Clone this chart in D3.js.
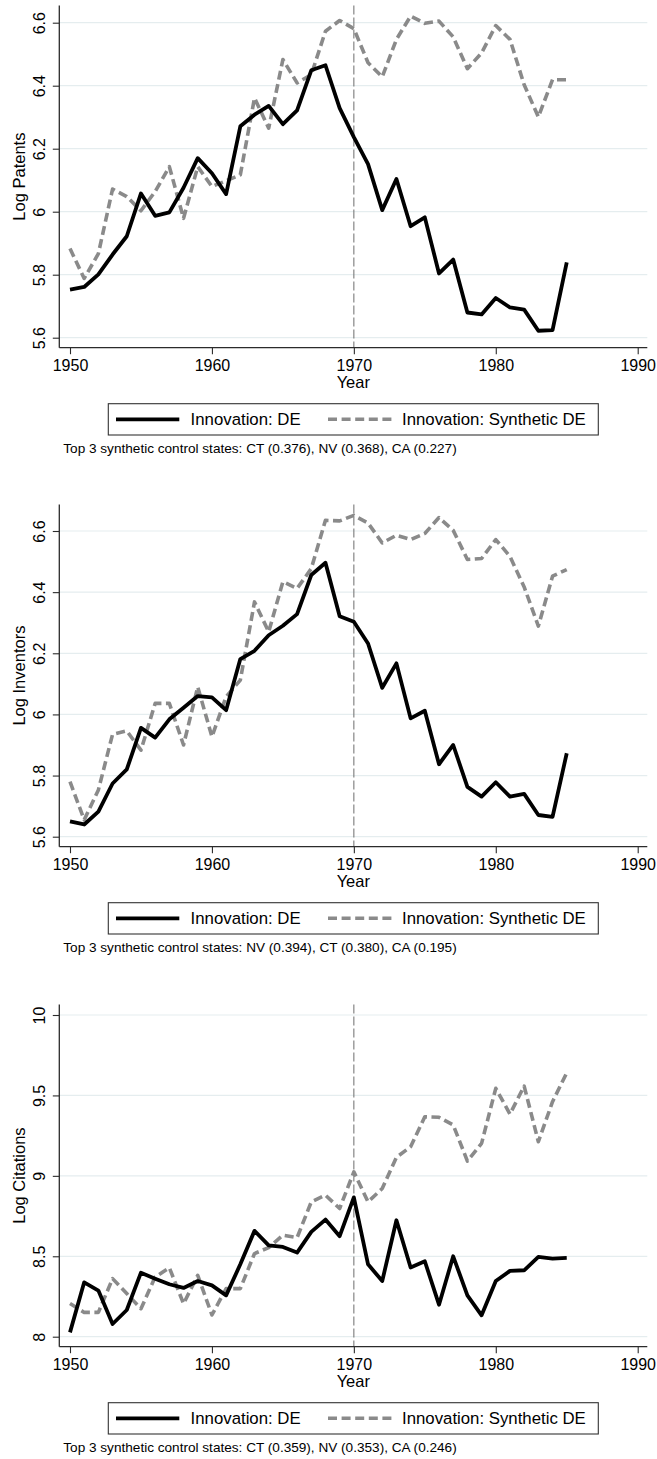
<!DOCTYPE html>
<html>
<head>
<meta charset="utf-8">
<script src="https://cdn.jsdelivr.net/npm/d3@7"></script>
<style>
  body { margin: 0; background: #fff; }
  svg { display: block; }
  text { font-family: "Liberation Sans", Arial, Helvetica, sans-serif; fill: #000; }
</style>
</head>
<body>
<svg id="chart" width="657" height="1459"></svg>
<script>
// ---- data -------------------------------------------------------------
const years = [1950, 1951, 1952, 1953, 1954, 1955, 1956, 1957, 1958, 1959,
               1960, 1961, 1962, 1963, 1964, 1965, 1966, 1967, 1968, 1969,
               1970, 1971, 1972, 1973, 1974, 1975, 1976, 1977, 1978, 1979,
               1980, 1981, 1982, 1983, 1984, 1985];

const patentsDE = [5.753, 5.761, 5.801, 5.864, 5.922, 6.058, 5.987, 5.998, 6.076, 6.170,
                   6.122, 6.056, 6.271, 6.308, 6.336, 6.278, 6.322, 6.449, 6.465, 6.329,
                   6.237, 6.151, 6.005, 6.104, 5.954, 5.982, 5.804, 5.848, 5.680, 5.674,
                   5.726, 5.696, 5.689, 5.622, 5.624, 5.839];
const patentsSynth = [5.883, 5.788, 5.867, 6.072, 6.048, 6.003, 6.064, 6.143, 5.979, 6.143,
                      6.080, 6.098, 6.117, 6.361, 6.265, 6.483, 6.409, 6.435, 6.573, 6.607,
                      6.581, 6.473, 6.428, 6.547, 6.621, 6.598, 6.605, 6.555, 6.454, 6.504,
                      6.591, 6.547, 6.403, 6.301, 6.419, 6.419];

const inventorsDE = [5.650, 5.640, 5.682, 5.774, 5.820, 5.956, 5.924, 5.984, 6.022, 6.060,
                     6.056, 6.014, 6.181, 6.208, 6.259, 6.290, 6.328, 6.456, 6.496, 6.321,
                     6.303, 6.232, 6.087, 6.167, 5.987, 6.012, 5.837, 5.900, 5.763, 5.731,
                     5.778, 5.731, 5.740, 5.671, 5.665, 5.873];
const inventorsSynth = [5.780, 5.655, 5.753, 5.935, 5.946, 5.883, 6.036, 6.036, 5.900, 6.090,
                        5.927, 6.058, 6.112, 6.368, 6.270, 6.434, 6.412, 6.477, 6.635, 6.633,
                        6.651, 6.626, 6.561, 6.586, 6.572, 6.592, 6.644, 6.602, 6.507, 6.510,
                        6.572, 6.517, 6.417, 6.289, 6.452, 6.474];

const citationsDE = [8.027, 8.338, 8.287, 8.079, 8.166, 8.398, 8.361, 8.326, 8.303, 8.346,
                     8.319, 8.257, 8.450, 8.658, 8.568, 8.558, 8.523, 8.652, 8.728, 8.625,
                     8.866, 8.450, 8.346, 8.724, 8.430, 8.469, 8.199, 8.500, 8.257, 8.133,
                     8.346, 8.409, 8.413, 8.496, 8.486, 8.490];
const citationsSynth = [8.207, 8.151, 8.151, 8.361, 8.268, 8.174, 8.371, 8.429, 8.205, 8.382,
                        8.135, 8.299, 8.299, 8.517, 8.554, 8.631, 8.616, 8.838, 8.880, 8.797,
                        9.025, 8.838, 8.921, 9.115, 9.181, 9.367, 9.364, 9.316, 9.092, 9.202,
                        9.544, 9.384, 9.558, 9.212, 9.461, 9.641];

const xTicks = [1950, 1960, 1970, 1980, 1990];
const yTicksPatents = [5.6, 5.8, 6, 6.2, 6.4, 6.6];
const yTicksInventors = [5.6, 5.8, 6, 6.2, 6.4, 6.6];
const yTicksCitations = [8, 8.5, 9, 9.5, 10];
const treatmentYear = 1970;

const yTitles = ["Log Patents", "Log Inventors", "Log Citations"];
const seriesNames = ["Innovation: DE", "Innovation: Synthetic DE"];
const footnotes = [
  "Top 3 synthetic control states: CT (0.376), NV (0.368), CA (0.227)",
  "Top 3 synthetic control states: NV (0.394), CT (0.380), CA (0.195)",
  "Top 3 synthetic control states: CT (0.359), NV (0.353), CA (0.246)"
];

// ---- layout -----------------------------------------------------------
const panels = [
  { top: 0,   de: patentsDE,   synth: patentsSynth,   ticks: yTicksPatents,   hiPos: 22.7 },
  { top: 499, de: inventorsDE, synth: inventorsSynth, ticks: yTicksInventors, hiPos: 32 },
  { top: 999, de: citationsDE, synth: citationsSynth, ticks: yTicksCitations, hiPos: 16 }
];

const axisLeftX = 59.3, axisRightX = 647.3;
const plotTop = 5.5, plotBottom = 347.7;
const loPos = 337.7;           // position of the lowest y tick inside a panel

const x = d3.scaleLinear().domain([1950, 1990]).range([70, 637.7]);

const gridColor = "#e5edef";
const axisColor = "#2b2b2b";
const synthColor = "#8a8a8a";

const svg = d3.select("#chart");

panels.forEach((p, i) => {
  const g = svg.append("g").attr("transform", `translate(0,${p.top})`);
  const lo = p.ticks[0], hi = p.ticks[p.ticks.length - 1];
  const y = d3.scaleLinear().domain([lo, hi]).range([loPos, p.hiPos]);

  // horizontal grid lines
  g.append("g").selectAll("line").data(p.ticks).join("line")
    .attr("x1", axisLeftX).attr("x2", axisRightX)
    .attr("y1", d => y(d)).attr("y2", d => y(d))
    .attr("stroke", gridColor).attr("stroke-width", 1.2);

  // reference line at the treatment year
  g.append("line")
    .attr("x1", x(treatmentYear)).attr("x2", x(treatmentYear))
    .attr("y1", plotTop).attr("y2", plotBottom)
    .attr("stroke", "#7a7a7a").attr("stroke-width", 1.1)
    .attr("stroke-dasharray", "9,3");

  // y axis
  const yAxis = d3.axisLeft(y).tickValues(p.ticks).tickSize(6.5).tickFormat(d => String(d));
  const ya = g.append("g").attr("transform", `translate(${axisLeftX},0)`).call(yAxis);
  ya.select(".domain").remove();
  ya.selectAll(".tick line").attr("stroke", axisColor).attr("stroke-width", 1.1);
  ya.selectAll(".tick text")
    .attr("transform", "rotate(-90)")
    .attr("x", 0).attr("y", -14).attr("dy", 0)
    .attr("text-anchor", "middle")
    .attr("font-size", 16).attr("fill", "#000");
  g.append("line")
    .attr("x1", axisLeftX).attr("x2", axisLeftX)
    .attr("y1", plotTop).attr("y2", plotBottom)
    .attr("stroke", axisColor).attr("stroke-width", 1.3);

  // x axis
  const xAxis = d3.axisBottom(x).tickValues(xTicks).tickSize(6.5).tickFormat(d3.format("d"));
  const xa = g.append("g").attr("transform", `translate(0,${plotBottom})`).call(xAxis);
  xa.select(".domain").remove();
  xa.selectAll(".tick line").attr("stroke", axisColor).attr("stroke-width", 1.1);
  xa.selectAll(".tick text")
    .attr("y", 23).attr("dy", 0)
    .attr("font-size", 16).attr("fill", "#000");
  g.append("line")
    .attr("x1", axisLeftX).attr("x2", axisRightX)
    .attr("y1", plotBottom).attr("y2", plotBottom)
    .attr("stroke", axisColor).attr("stroke-width", 1.3);

  // axis titles
  g.append("text")
    .attr("x", (axisLeftX + axisRightX) / 2).attr("y", 387.5)
    .attr("text-anchor", "middle").attr("font-size", 16.5)
    .text("Year");
  g.append("text")
    .attr("transform", `translate(25,${(plotTop + plotBottom) / 2}) rotate(-90)`)
    .attr("text-anchor", "middle").attr("font-size", 16.5)
    .text(yTitles[i]);

  // series
  const line = d3.line().x((d, k) => x(years[k])).y(d => y(d));
  g.append("path").datum(p.synth)
    .attr("d", line).attr("fill", "none")
    .attr("stroke", synthColor).attr("stroke-width", 3.6)
    .attr("stroke-dasharray", "9,4.5").attr("stroke-linejoin", "round");
  g.append("path").datum(p.de)
    .attr("d", line).attr("fill", "none")
    .attr("stroke", "#000").attr("stroke-width", 3.8)
    .attr("stroke-linejoin", "round");

  // legend
  const lg = g.append("g");
  lg.append("rect")
    .attr("x", 108.3).attr("y", 403.7).attr("width", 490).attr("height", 31.3)
    .attr("fill", "#fff").attr("stroke", "#333").attr("stroke-width", 1.1);
  lg.append("line")
    .attr("x1", 116).attr("x2", 179.3).attr("y1", 419.3).attr("y2", 419.3)
    .attr("stroke", "#000").attr("stroke-width", 3.8);
  lg.append("text").attr("x", 190.6).attr("y", 425.3).attr("font-size", 16.8)
    .text(seriesNames[0]);
  lg.append("line")
    .attr("x1", 328).attr("x2", 391.7).attr("y1", 419.3).attr("y2", 419.3)
    .attr("stroke", synthColor).attr("stroke-width", 3.6)
    .attr("stroke-dasharray", "9,4.6");
  lg.append("text").attr("x", 402).attr("y", 425.3).attr("font-size", 16.8)
    .text(seriesNames[1]);

  // note under the legend
  g.append("text").attr("x", 63.3).attr("y", 452.8).attr("font-size", 13.6)
    .text(footnotes[i]);
});
</script>
</body>
</html>
